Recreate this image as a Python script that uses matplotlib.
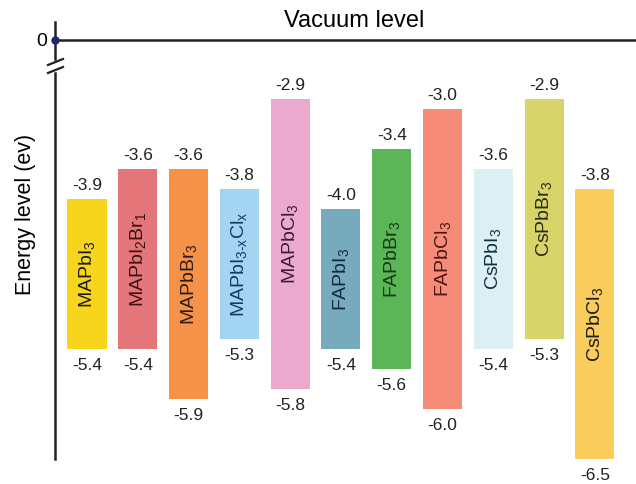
import numpy as np
import matplotlib
matplotlib.use('Agg')
import matplotlib.pyplot as plt
from matplotlib.lines import Line2D

plt.rcParams['font.family'] = ['Liberation Sans', 'DejaVu Sans']
plt.rcParams['mathtext.default'] = 'regular'

# perovskite names, conduction band (top) and valence band (bottom) in eV
materials = ['MAPbI$_3$', 'MAPbI$_2$Br$_1$', 'MAPbBr$_3$', 'MAPbI$_{3\u2011x}$Cl$_x$',
             'MAPbCl$_3$', 'FAPbI$_3$', 'FAPbBr$_3$', 'FAPbCl$_3$',
             'CsPbI$_3$', 'CsPbBr$_3$', 'CsPbCl$_3$']
cb = [-3.9, -3.6, -3.6, -3.8, -2.9, -4.0, -3.4, -3.0, -3.6, -2.9, -3.8]
vb = [-5.4, -5.4, -5.9, -5.3, -5.8, -5.4, -5.6, -6.0, -5.4, -5.3, -6.5]

colors = ['#F7D51C', '#E4767A', '#F59248', '#A3D5F2', '#ECA9CE', '#78AABD',
          '#5DB55A', '#F68B78', '#DDEFF4', '#D7D46A', '#F9CC5C']
text_colors = ['#1a1a10', '#3a1010', '#2a1a10', '#123a6a', '#3a1a3a', '#102a40',
               '#103a10', '#4a1510', '#103040', '#2a2a10', '#1a1a10']

W, H = 636, 484
fig = plt.figure(figsize=(W / 100, H / 100), dpi=100)

def box(x0, y0, x1, y1):
    # pixel box (top-left origin) -> figure fraction
    return [x0 / W, 1 - y1 / H, (x1 - x0) / W, (y1 - y0) / H]

# top part: vacuum level
ax_top = fig.add_axes(box(55, 22, 636, 59))
ax_top.set_ylim(-19, 18)
ax_top.set_xlim(0, 1)
ax_top.axhline(0, color='#222222', lw=1.8)
ax_top.plot([0], [0], 'o', color='#1a2a6a', ms=5, clip_on=False, zorder=5)
for s in ['top', 'right', 'bottom']:
    ax_top.spines[s].set_visible(False)
ax_top.spines['left'].set_linewidth(1.8)
ax_top.spines['left'].set_color('#222222')
ax_top.set_xticks([])
ax_top.set_yticks([0])
ax_top.set_yticklabels(['0'], fontsize=14)
ax_top.tick_params(axis='y', length=0, pad=6)
fig.text(354 / W, 1 - 21 / H, 'Vacuum level', fontsize=17, ha='center', va='center')

# bottom part: band positions
ax = fig.add_axes(box(55, 73, 636, 459))
x = np.arange(len(materials))
ax.set_xlim(-0.63, 10.81)
ax.set_ylim(-6.5, -2.64)
heights = np.array(cb) - np.array(vb)
ax.bar(x, heights, bottom=vb, width=0.77, color=colors, zorder=2)
for i in range(len(materials)):
    ax.annotate(f'{cb[i]:.1f}', (x[i], cb[i]), xytext=(0, 9.5), textcoords='offset points',
                ha='center', va='center', fontsize=12.5, color='#222222', annotation_clip=False)
    ax.annotate(f'{vb[i]:.1f}', (x[i], vb[i]), xytext=(0, -12), textcoords='offset points',
                ha='center', va='center', fontsize=12.5, color='#222222', annotation_clip=False)
    ax.text(x[i], (cb[i] + vb[i]) / 2, materials[i], rotation=90, ha='center', va='center',
            fontsize=14, color=text_colors[i])
for s in ['top', 'right', 'bottom']:
    ax.spines[s].set_visible(False)
ax.spines['left'].set_linewidth(1.8)
ax.spines['left'].set_color('#222222')
ax.set_xticks([])
ax.set_yticks([])

# axis break marks
for yb in (62, 70):
    fig.add_artist(Line2D([48 / W, 63 / W], [1 - (yb + 3) / H, 1 - (yb - 3) / H],
                          color='#222222', lw=1.6))

fig.text(26 / W, 1 - 214 / H, 'Energy level (ev)', fontsize=15.5, rotation=90,
         ha='center', va='center')

fig.savefig('out.png', dpi=100)
